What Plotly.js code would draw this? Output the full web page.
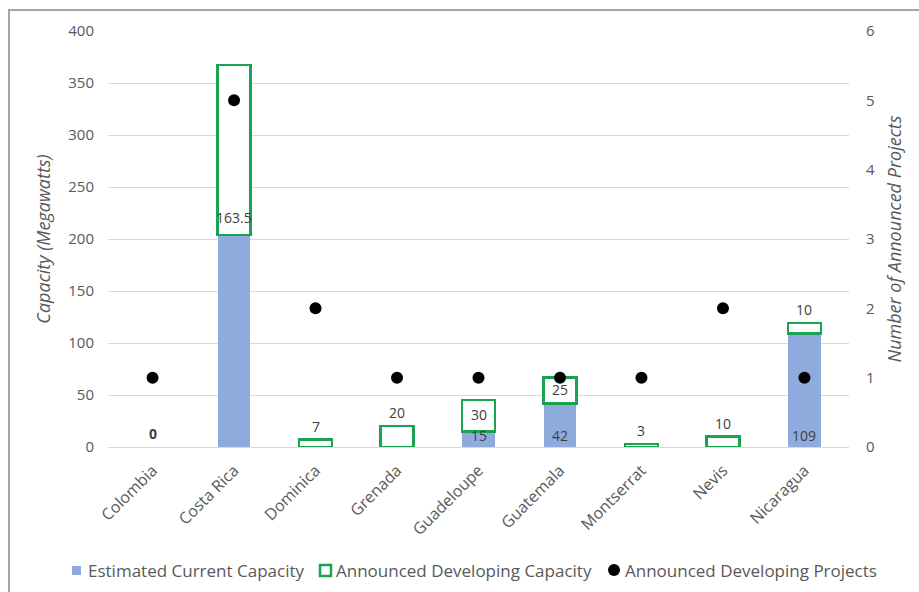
<!DOCTYPE html>
<html><head><meta charset="utf-8">
<script src="https://cdn.plot.ly/plotly-3.0.1.min.js"></script>
<style>
html,body{margin:0;padding:0;background:#fff;}
#chart{width:919px;height:592px;position:absolute;left:0;top:0;}
#frame{position:absolute;left:8px;top:9px;width:940px;height:620px;border:2px solid #a6a6a6;pointer-events:none;}
</style></head>
<body>
<div id="chart"></div>
<div id="frame"></div>
<script>
const countries = ['Colombia','Costa Rica','Dominica','Grenada','Guadeloupe','Guatemala','Montserrat','Nevis','Nicaragua'];
const currentCapacity = [0, 204, 0, 0, 15, 42, 0, 0, 109];
const developingCapacity = [0, 163.5, 7, 20, 30, 25, 3, 10, 10];
const projects = [1, 5, 2, 1, 1, 1, 1, 2, 1];
// Colombia's two "0" labels coincide in the reference; drawn once (bold) here
const currentLabels = ['', '', '', '', '15', '42', '', '', '109'];
const developingLabels = ['<b>0</b>', '163.5', '7', '20', '30', '25', '3', '10', '10'];
const seriesNames = ['Estimated Current Capacity', 'Announced Developing Capacity', 'Announced Developing Projects'];
// label placement style for developing labels
const devLabelPlacement = ['above','base','above','above','middle','middle','above','above','above'];

const gray = '#595959';
const blue = '#8faadc', green = '#1aa350';
const labelFont = {size:14, color:'#404040', family:'"Open Sans", sans-serif'};

// plot geometry (pixels)
const W0 = 919, H0 = 592, L = 108, R = 70, T = 31, B = 145;
const PW = W0 - L - R, PH = H0 - T - B;
const X = px => (px - L) / PW;
const Y = py => (T + PH - py) / PH;

const traces = [
  {type:'bar', name:seriesNames[0], x:countries, y:currentCapacity,
   marker:{color:blue}, width:0.4, hoverinfo:'none'},
  {type:'bar', name:seriesNames[1], x:countries,
   y:developingCapacity.map(v => v > 0 ? v : null),
   marker:{color:'#ffffff', line:{color:green, width:2.5}},
   width:0.4, hoverinfo:'none'},
  {type:'scatter', mode:'markers', name:seriesNames[2], x:countries, y:projects,
   yaxis:'y2', marker:{color:'#000000', size:12}, hoverinfo:'none'}
];

const annotations = [];
countries.forEach((c,i)=>{
  if (currentLabels[i]) {
    annotations.push({x:c, y:0, xref:'x', yref:'y', text:currentLabels[i], showarrow:false,
      yanchor:'bottom', yshift:0, font:labelFont});
  }
  const pos = devLabelPlacement[i];
  const base = currentCapacity[i];
  const top = base + developingCapacity[i];
  let y, yanchor, yshift;
  if (pos === 'above') { y = top; yanchor = 'bottom'; yshift = 2; }
  else if (pos === 'base') { y = base; yanchor = 'bottom'; yshift = 6; }
  else { y = (base + top)/2; yanchor = 'middle'; yshift = 1; }
  annotations.push({x:c, y:y, xref:'x', yref:'y', text:developingLabels[i], showarrow:false,
    yanchor:yanchor, yshift:yshift, font:labelFont});
});

// custom legend (one row, like the reference)
const legendY = 570;
const legendTextX = [86, 334, 623];
legendTextX.forEach((lx, i) => {
  annotations.push({x:X(lx), y:Y(legendY), xref:'paper', yref:'paper', text:seriesNames[i],
    showarrow:false, xanchor:'left', yanchor:'middle', font:{size:17, color:gray}});
});
const shapes = [
  {type:'rect', xref:'paper', yref:'paper', x0:X(72), x1:X(81), y0:Y(575), y1:Y(566),
   fillcolor:blue, line:{width:0}},
  {type:'rect', xref:'paper', yref:'paper', x0:X(320), x1:X(331), y0:Y(576), y1:Y(565),
   fillcolor:'#ffffff', line:{color:green, width:2.5}},
  {type:'circle', xref:'paper', yref:'paper', x0:X(608), x1:X(620), y0:Y(576), y1:Y(564),
   fillcolor:'#000000', line:{width:0}}
];

const layout = {
  width:W0, height:H0,
  margin:{l:L, r:R, t:T, b:B},
  paper_bgcolor:'rgba(0,0,0,0)', plot_bgcolor:'#ffffff',
  font:{family:'"Open Sans", sans-serif', color:gray, size:15},
  barmode:'stack', showlegend:false,
  xaxis:{tickangle:-45, showgrid:false, showline:false, ticks:'', tickfont:{size:16, color:gray},
    ticklabelstandoff:10, fixedrange:true, automargin:false},
  yaxis:{range:[0,400], dtick:50, gridcolor:'#d9d9d9', gridwidth:1, zeroline:true, zerolinecolor:'#d9d9d9',
    showline:false, ticks:'', tickfont:{size:15, color:gray}, ticklabelstandoff:13, automargin:false,
    title:{text:'Capacity (Megawatts)', font:{size:18, color:gray, style:'italic'}, standoff:12}},
  yaxis2:{range:[0,6], dtick:1, overlaying:'y', side:'right', showgrid:false, zeroline:false,
    showline:false, ticks:'', tickfont:{size:15, color:gray}, ticklabelstandoff:16, automargin:false,
    title:{text:'Number of Announced Projects', font:{size:18, color:gray, style:'italic'}, standoff:14}},
  annotations:annotations,
  shapes:shapes
};
Plotly.newPlot('chart', traces, layout, {displayModeBar:false, staticPlot:true});
</script>
</body></html>
